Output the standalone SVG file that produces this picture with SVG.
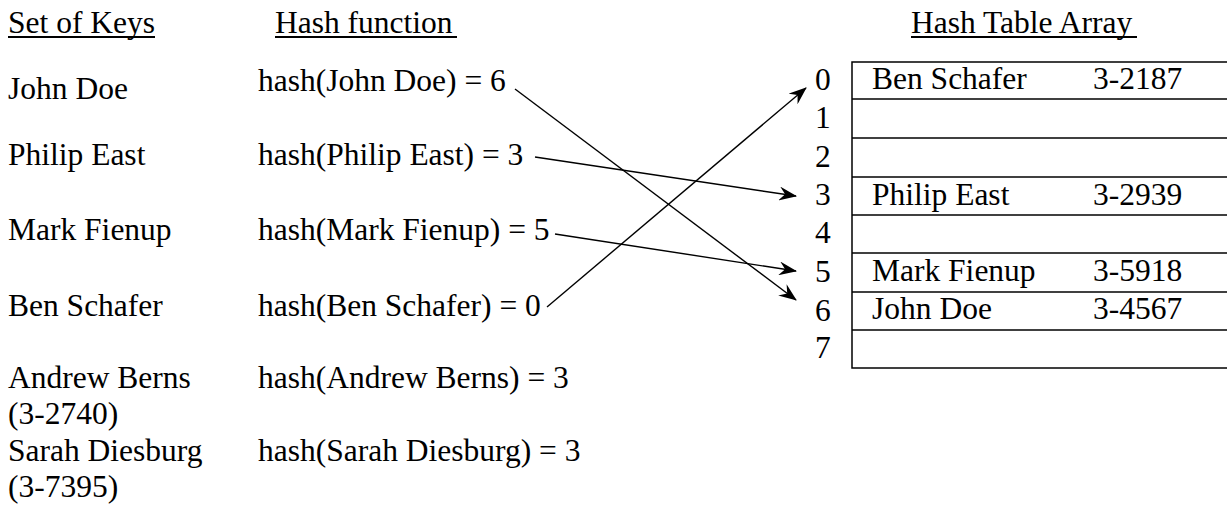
<svg xmlns="http://www.w3.org/2000/svg" width="1227" height="508" viewBox="0 0 1227 508">
<style>
text{font-family:"Liberation Serif","Times New Roman",serif;font-size:31.5px;fill:#000}
.ul{stroke:#000;stroke-width:1.8}
.tbl{fill:none;stroke:#000;stroke-width:1.5}
.conn{fill:none;stroke:#000;stroke-width:1.4}
</style>
<defs>
<marker id="ah" viewBox="0 0 18 14" refX="17" refY="7" markerWidth="18" markerHeight="14" markerUnits="userSpaceOnUse" orient="auto">
<path d="M0,0 L18,7 L0,14 L6,7 z" fill="#000"/>
</marker>
</defs>
<g id="headers">
<text x="8" y="33">Set of Keys</text>
<line class="ul" x1="8" y1="37" x2="155" y2="37"/>
<text x="275" y="33">Hash function</text>
<line class="ul" x1="275" y1="37" x2="457" y2="37"/>
<text x="911" y="33">Hash Table Array</text>
<line class="ul" x1="911" y1="37" x2="1137" y2="37"/>
</g>
<g id="keys">
<text x="8" y="99">John Doe</text>
<text x="8" y="165">Philip East</text>
<text x="8" y="240">Mark Fienup</text>
<text x="8" y="316">Ben Schafer</text>
<text x="8" y="388">Andrew Berns</text>
<text x="8" y="424">(3-2740)</text>
<text x="8" y="461">Sarah Diesburg</text>
<text x="8" y="497">(3-7395)</text>
</g>
<g id="hashes">
<text x="258" y="91">hash(John Doe) = 6</text>
<text x="258" y="165">hash(Philip East) = 3</text>
<text x="258" y="240">hash(Mark Fienup) = 5</text>
<text x="258" y="316">hash(Ben Schafer) = 0</text>
<text x="258" y="388">hash(Andrew Berns) = 3</text>
<text x="258" y="461">hash(Sarah Diesburg) = 3</text>
</g>
<g id="table">
<rect class="tbl" x="852" y="62" width="400" height="306"/>
<line class="tbl" x1="852" y1="99" x2="1240" y2="99"/>
<line class="tbl" x1="852" y1="138" x2="1240" y2="138"/>
<line class="tbl" x1="852" y1="177" x2="1240" y2="177"/>
<line class="tbl" x1="852" y1="215" x2="1240" y2="215"/>
<line class="tbl" x1="852" y1="253" x2="1240" y2="253"/>
<line class="tbl" x1="852" y1="292" x2="1240" y2="292"/>
<line class="tbl" x1="852" y1="330" x2="1240" y2="330"/>
<text x="815" y="90">0</text>
<text x="815" y="128">1</text>
<text x="815" y="167">2</text>
<text x="815" y="205">3</text>
<text x="815" y="243">4</text>
<text x="815" y="282">5</text>
<text x="815" y="321">6</text>
<text x="815" y="358">7</text>
<text x="872" y="89">Ben Schafer</text>
<text x="1093" y="89">3-2187</text>
<text x="872" y="205">Philip East</text>
<text x="1093" y="205">3-2939</text>
<text x="872" y="281">Mark Fienup</text>
<text x="1093" y="281">3-5918</text>
<text x="872" y="319">John Doe</text>
<text x="1093" y="319">3-4567</text>
</g>
<g id="connectors">
<line class="conn" x1="515" y1="89" x2="796" y2="300" marker-end="url(#ah)"/>
<line class="conn" x1="535" y1="157" x2="796" y2="196" marker-end="url(#ah)"/>
<line class="conn" x1="555" y1="234" x2="796" y2="271" marker-end="url(#ah)"/>
<line class="conn" x1="547" y1="307" x2="806" y2="88" marker-end="url(#ah)"/>
</g>
</svg>
